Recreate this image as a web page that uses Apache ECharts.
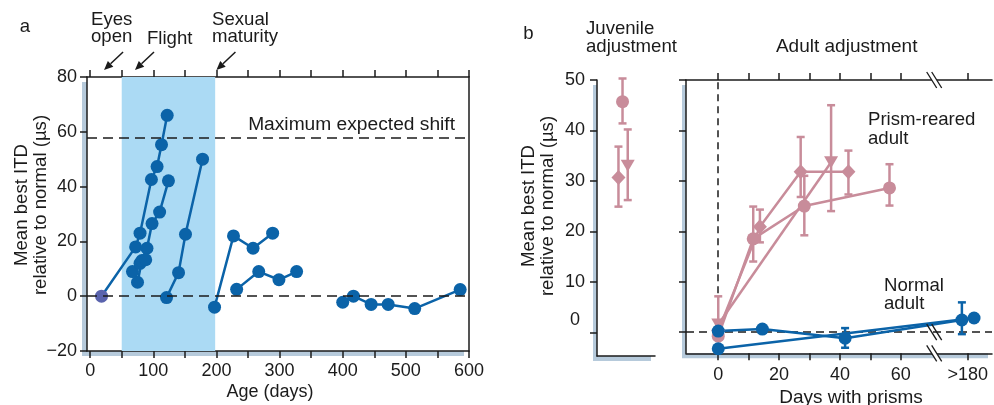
<!DOCTYPE html>
<html><head><meta charset="utf-8">
<script src="https://cdn.jsdelivr.net/npm/echarts@6/dist/echarts.min.js"></script>
<style>html,body{margin:0;padding:0;background:#fff}#c{width:994px;height:405px}</style>
</head><body><div id="c"></div>
<script>
// ---------------- Panel a data ----------------
const ageTicks = [0,50,100,150,200,250,300,350,400,450,500,550,600];
const ageLabels = [0,100,200,300,400,500,600];
const flightStart = 50, flightEnd = 198;
const maxExpectedShift = 58;
const milestoneDays = [22, 71, 200];
const owl1 = [[18,0],[72,18],[79,23],[97,42.6],[106,47.3],[113,55.3],[122,66]];
const owl2 = [[67,9],[79,12],[90,17.5],[98,26.5],[110,30.7],[124,42.1]];
const owl3 = [[75,5.1],[82,13],[88,13.3]];
const owl4 = [[121,-0.5],[140,8.6],[151,22.6],[178,50]];
const owl5 = [[197,-4],[227,22],[258,17.5],[289,23]];
const owl6 = [[232,2.5],[267,9],[299,6],[327,9]];
const owl7 = [[400,-2.2],[417,0],[445,-3],[472,-3],[514,-4.5],[586,2.4]];

// ---------------- Panel b data ----------------
const itdTicksB = [0,10,20,30,40,50];
const dayTicks = [0,10,20,30,40,50,60,82];
const dayLabelValues = [0,20,40,60,82];
const dayLabelText = ['0','20','40','60','>180'];
const axisBreakAt = 71;
// juvenile (slot position, value) and error (slot, low, high)
const juvCircle = [[4.4,45.7]];      const juvCircleErr = [[4.4,41.4,50.3]];
const juvDiamond = [[3.7,30.7]];     const juvDiamondErr = [[3.7,24.9,36.8]];
const juvTriangle = [[5.3,33]];      const juvTriangleErr = [[5.3,26.2,40.2]];
// adult prism-reared
const prismCircle = [[0,-0.8],[11.5,18.5],[28.3,25],[56.3,28.6]];
const prismCircleErr = [[11.5,14,24.9],[28.3,19.2,31],[56.3,25.1,33.3]];
const prismDiamond = [[0,0.3],[13.7,20.9],[27.1,31.8],[42.8,31.8]];
const prismDiamondErr = [[13.7,17.8,24.3],[27.1,26.8,38.7],[42.8,27.3,36]];
const prismTriangle = [[0,1.5],[37.1,33.7]];
const prismTriangleErr = [[0,-1,7.1],[37.1,24,45]];
// normal adult
const normalA = [[0,0.2],[14.5,0.6],[41.7,-1.2],[80.1,2.4]];
const normalAErr = [[41.7,-3.1,0.8],[80.1,-0.4,5.9]];
const normalB = [[0,-3.3],[84.1,2.8]];

// ---------------- styling ----------------
const FONT = 'Liberation Sans';
const INK = '#1b1b1b';
const BLUE = '#0b63a8';
const PURPLE = '#5a63ad';
const PINK = '#c88c9a';
const SHADE = '#abdaf4';
const SHADOW = '#b6cadb';
const ANN = 18.6;

const chart = echarts.init(document.getElementById('c'), null, {renderer:'canvas'});

function ax(o) {
  return Object.assign({
    type:'value', splitLine:{show:false},
    axisLine:{show:true, onZero:false, lineStyle:{color:INK, width:1.5}},
    axisTick:{show:true, inside:false, length:7, lineStyle:{color:INK, width:1.5}},
    axisLabel:{show:true, fontFamily:FONT, fontSize:18, color:INK}
  }, o);
}
function merge(a, b) { return Object.assign({}, a, b); }
const baseTick = {show:true, inside:false, length:7, lineStyle:{color:INK, width:1.5}};
const baseLabel = {show:true, fontFamily:FONT, fontSize:18, color:INK};

const gridShadow = {show:true, backgroundColor:'#fff', borderWidth:0, shadowColor:SHADOW, shadowBlur:0};

function lineSeries(data, color, xi, symbol, size, rotate) {
  return {type:'line', xAxisIndex:xi, yAxisIndex:xi, data:data, symbol:symbol, symbolSize:size,
    symbolRotate: rotate || 0, showSymbol:true, animation:false, z:3,
    lineStyle:{color:color, width:2.5}, itemStyle:{color:color}};
}
function errorSeries(data, color, xi, cap) {
  return {type:'custom', xAxisIndex:xi, yAxisIndex:xi, data:data, z:3, silent:true, animation:false,
    encode:{x:0, y:[1,2]},
    renderItem:function(params, api){
      const x = api.value(0), lo = api.value(1), hi = api.value(2);
      const a = api.coord([x, lo]), b = api.coord([x, hi]);
      const st = {stroke:color, lineWidth:2.5, fill:null};
      return {type:'group', children:[
        {type:'line', shape:{x1:a[0], y1:a[1], x2:b[0], y2:b[1]}, style:st},
        {type:'line', shape:{x1:a[0]-cap, y1:a[1], x2:a[0]+cap, y2:a[1]}, style:st},
        {type:'line', shape:{x1:b[0]-cap, y1:b[1], x2:b[0]+cap, y2:b[1]}, style:st}
      ]};
    }};
}

const s1 = lineSeries(owl1.map((p,i)=> i===0 ? {value:p, itemStyle:{color:PURPLE}} : p), BLUE, 0, 'circle', 13);
s1.markArea = {silent:true, itemStyle:{color:SHADE}, data:[[{xAxis:flightStart},{xAxis:flightEnd}]]};
s1.markLine = {silent:true, symbol:['none','none'], label:{show:false}, animation:false,
  lineStyle:{color:INK, type:[10,6], width:1.5}, data:[{yAxis:0},{yAxis:maxExpectedShift}]};

const pc = lineSeries(prismCircle, PINK, 3, 'circle', 13);
pc.markLine = {silent:true, z:1, symbol:['none','none'], label:{show:false}, animation:false,
  lineStyle:{color:INK, width:1.5},
  data:[{yAxis:0, lineStyle:{type:[8,5]}}, {xAxis:0, lineStyle:{type:[7,5]}}]};

const option = {
  animation:false,
  grid:[
    merge(gridShadow, {left:87, top:77, width:382, height:274, shadowOffsetX:-5, shadowOffsetY:5}),
    merge(gridShadow, {left:597, top:80, width:58, height:276, shadowOffsetX:-4, shadowOffsetY:5}),
    merge(gridShadow, {left:686, top:80, width:306, height:273.3, shadowOffsetX:-4, shadowOffsetY:5})
  ],
  xAxis:[
    ax({gridIndex:0, position:'bottom', min:-5, max:600,
      axisTick:merge(baseTick,{customValues:ageTicks}),
      axisLabel:merge(baseLabel,{customValues:ageLabels, margin:11})}),
    ax({gridIndex:0, position:'top', min:-5, max:600,
      axisTick:merge(baseTick,{customValues:ageTicks}), axisLabel:{show:false}}),
    ax({gridIndex:1, position:'bottom', min:0, max:10, axisTick:{show:false}, axisLabel:{show:false}}),
    ax({gridIndex:2, position:'bottom', min:-10.6, max:90,
      axisTick:merge(baseTick,{customValues:dayTicks}),
      axisLabel:merge(baseLabel,{customValues:dayLabelValues, margin:13,
        formatter:function(v){ const i = dayLabelValues.indexOf(v); return i>=0 ? dayLabelText[i] : ''; }})}),
    ax({gridIndex:2, position:'top', min:-10.6, max:90,
      axisTick:merge(baseTick,{customValues:dayTicks}), axisLabel:{show:false}})
  ],
  yAxis:[
    ax({gridIndex:0, position:'left', min:-20, max:80, interval:20,
      axisLabel:merge(baseLabel,{margin:10, formatter:function(v){ return v<0 ? '\u2212'+(-v) : String(v); }})}),
    ax({gridIndex:0, position:'right', min:-20, max:80, interval:20, axisTick:{show:false}, axisLabel:{show:false}}),
    ax({gridIndex:1, position:'left', min:-4.7, max:50,
      axisTick:merge(baseTick,{customValues:itdTicksB}),
      axisLabel:merge(baseLabel,{customValues:itdTicksB, margin:12,
        formatter:function(v){ return v===0 ? '{z|0}' : String(v); },
        rich:{z:{fontFamily:FONT, fontSize:18, color:INK, padding:[0,5,24,0]}}})}),
    ax({gridIndex:2, position:'left', min:-4.2, max:50,
      axisTick:merge(baseTick,{customValues:itdTicksB}), axisLabel:{show:false}})
  ],
  series:[
    s1,
    lineSeries(owl2, BLUE, 0, 'circle', 13),
    lineSeries(owl3, BLUE, 0, 'circle', 13),
    lineSeries(owl4, BLUE, 0, 'circle', 13),
    lineSeries(owl5, BLUE, 0, 'circle', 13),
    lineSeries(owl6, BLUE, 0, 'circle', 13),
    lineSeries(owl7, BLUE, 0, 'circle', 13),
    // juvenile
    errorSeries(juvCircleErr, PINK, 2, 4),
    errorSeries(juvDiamondErr, PINK, 2, 4),
    errorSeries(juvTriangleErr, PINK, 2, 4),
    lineSeries(juvCircle, PINK, 2, 'circle', 13),
    lineSeries(juvDiamond, PINK, 2, 'diamond', [14,15]),
    lineSeries(juvTriangle, PINK, 2, 'triangle', [14,12], 180),
    // adult prism-reared
    errorSeries(prismCircleErr, PINK, 3, 4),
    errorSeries(prismDiamondErr, PINK, 3, 4),
    errorSeries(prismTriangleErr, PINK, 3, 4),
    pc,
    lineSeries(prismDiamond, PINK, 3, 'diamond', [14,15]),
    lineSeries(prismTriangle, PINK, 3, 'triangle', [14,12], 180),
    // normal adult
    errorSeries(normalAErr, BLUE, 3, 4),
    lineSeries(normalA, BLUE, 3, 'circle', 13),
    lineSeries(normalB, BLUE, 3, 'circle', 13)
  ]
};
chart.setOption(option);

// ---------------- annotations ----------------
function txt(text, x, y, align, opts) {
  return Object.assign({type:'text', x:x, y:y, z:100, silent:true,
    style:{text:text, fontFamily:FONT, fontSize:ANN, fill:INK, align:align, verticalAlign:'middle', lineHeight:17}}, opts || {});
}
const g = [];
g.push(txt('a', 25, 27, 'center'));
g.push(txt('Eyes\nopen', 91, 28.3, 'left'));
g.push(txt('Flight', 147, 38.8, 'left'));
g.push(txt('Sexual\nmaturity', 212, 28.3, 'left'));
const mes = txt('Maximum expected shift', 455, 124.8, 'right'); mes.style.fontSize = 19.2; g.push(mes);
const age = txt('Age (days)', 270, 392.5, 'center'); age.style.fontSize = 18; g.push(age);
const yName = txt('Mean best ITD\nrelative to normal (\u00b5s)', 31, 205, 'center', {rotation:Math.PI/2});
yName.style.lineHeight = 19;
g.push(yName);
g.push(txt('b', 528.5, 34, 'center'));
const juv = txt('Juvenile\nadjustment', 586, 38.2, 'left'); juv.style.lineHeight = 18; g.push(juv);
const aa = txt('Adult adjustment', 846.7, 47.2, 'center'); aa.style.fontSize = 19; g.push(aa);
const pr = txt('Prism-reared\nadult', 868, 129.3, 'left'); pr.style.lineHeight = 19; g.push(pr);
const na = txt('Normal\nadult', 884, 295.2, 'left'); na.style.lineHeight = 18; g.push(na);
const dw = txt('Days with prisms', 851, 398.2, 'center'); dw.style.fontSize = 19; g.push(dw);
const yName2 = txt('Mean best ITD\nrelative to normal (\u00b5s)', 538, 206, 'center', {rotation:Math.PI/2});
yName2.style.lineHeight = 19;
g.push(yName2);

// arrows for milestones
const topY = chart.convertToPixel({yAxisIndex:0}, 80);
milestoneDays.forEach(function(d){
  const px = chart.convertToPixel({xAxisIndex:0}, d);
  const tip = [px, topY - 7], tail = [px + 19, topY - 25];
  const dx = tip[0]-tail[0], dy = tip[1]-tail[1], L = Math.hypot(dx, dy);
  const ux = dx/L, uy = dy/L, nx = -uy, ny = ux;
  const base = [tip[0]-ux*9, tip[1]-uy*9];
  g.push({type:'line', z:100, silent:true, shape:{x1:tail[0], y1:tail[1], x2:base[0], y2:base[1]}, style:{stroke:INK, lineWidth:1.5}});
  g.push({type:'polygon', z:100, silent:true, shape:{points:[tip, [base[0]+nx*4, base[1]+ny*4], [base[0]-nx*4, base[1]-ny*4]]}, style:{fill:INK}});
});

// axis break marks
const bx = chart.convertToPixel({xAxisIndex:3}, axisBreakAt);
const breakYs = [
  [chart.convertToPixel({yAxisIndex:3}, 50), true],
  [chart.convertToPixel({yAxisIndex:3}, 0), false],
  [chart.convertToPixel({yAxisIndex:3}, -4.2), true]
];
breakYs.forEach(function(b){
  const cy = b[0], cx = bx;
  if (b[1]) {
    g.push({type:'polygon', z:99, silent:true, shape:{points:[[cx-7.5,cy-8],[cx-2.5,cy-8],[cx+7.5,cy+8],[cx+2.5,cy+8]]}, style:{fill:'#fff'}});
  }
  [-2.5, 2.5].forEach(function(o){
    g.push({type:'line', z:100, silent:true, shape:{x1:cx+o-5, y1:cy-8, x2:cx+o+5, y2:cy+8}, style:{stroke:INK, lineWidth:1.3}});
  });
});
chart.setOption({graphic:g});
</script>
</body></html>
